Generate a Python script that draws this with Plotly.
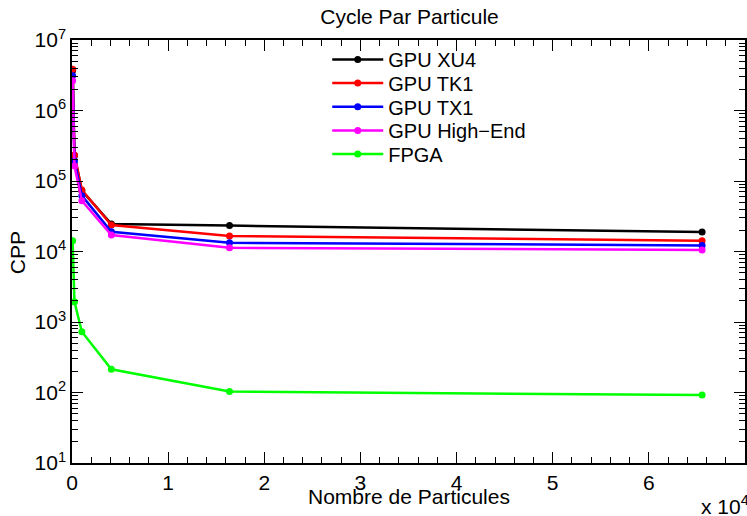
import plotly.graph_objects as go

# Number of particles per run
particles = [64, 256, 1024, 4096, 16384, 65536]

# Cycles per particle for each platform
cpp_xu4 = [3.7e6, 2.3e5, 7.3e4, 2.45e4, 2.33e4, 1.89e4]
cpp_tk1 = [3.84e6, 2.34e5, 7.45e4, 2.38e4, 1.66e4, 1.42e4]
cpp_tx1 = [3.12e6, 1.92e5, 6.2e4, 1.9e4, 1.33e4, 1.22e4]
cpp_high_end = [2.65e6, 1.63e5, 5.25e4, 1.71e4, 1.13e4, 1.05e4]
cpp_fpga = [1.42e4, 1.93e3, 728, 213, 103, 92]

series_names = ["GPU XU4", "GPU TK1", "GPU TX1", "GPU High\u2212End", "FPGA"]
series_values = [cpp_xu4, cpp_tk1, cpp_tx1, cpp_high_end, cpp_fpga]
series_colors = ["#000000", "#ff0000", "#0000ff", "#ff00ff", "#00ff00"]

x_tick_vals = [0, 10000, 20000, 30000, 40000, 50000, 60000, 70000]
x_tick_text = ["0", "1", "2", "3", "4", "5", "6", "7"]
y_exponents = [1, 2, 3, 4, 5, 6, 7]

FONT = "Liberation Sans, Arial, Helvetica, sans-serif"
FS = 21

# plot-area geometry in pixels (for placing legend rows / labels)
L, R, T, B = 72, 747, 40, 463
PW, PH = R - L, B - T

fig = go.Figure()
legend_ids = ["legend", "legend2", "legend3", "legend4", "legend5"]
for name, vals, color, lid in zip(series_names, series_values, series_colors, legend_ids):
    fig.add_trace(go.Scatter(
        x=particles, y=vals, name=name, mode="lines+markers",
        line=dict(color=color, width=2.5),
        marker=dict(color=color, size=7, symbol="circle"),
        legend=lid,
    ))

# one legend box per row so the row spacing is compact
row_centers = [59.5, 83, 106.7, 130.4, 154]
legend_layouts = {}
for lid, yc in zip(legend_ids, row_centers):
    legend_layouts[lid] = dict(
        x=(328 - L) / PW, y=1 - (yc - T) / PH, xanchor="left", yanchor="middle",
        bgcolor="rgba(255,255,255,0)", borderwidth=0,
        font=dict(family=FONT, size=20, color="black"),
        itemwidth=51,
    )

y_minor = [m * 10 ** e for e in range(1, 7) for m in range(2, 10)]

fig.update_layout(
    width=747, height=516,
    margin=dict(l=L, r=747 - R, t=T, b=516 - B),
    paper_bgcolor="white", plot_bgcolor="white",
    font=dict(family=FONT, size=FS, color="black"),
    showlegend=True,
    title=dict(
        text="Cycle Par Particule", x=(L + R) / 2 / 747, xanchor="center",
        y=1 - 17 / 516, yanchor="middle", yref="container",
        font=dict(family=FONT, size=FS, color="black"),
    ),
    xaxis=dict(
        range=[0, 70000], tickmode="array", tickvals=x_tick_vals, ticktext=x_tick_text,
        ticks="inside", ticklen=11, tickwidth=1.3, tickcolor="black",
        showline=True, linecolor="black", linewidth=1.5, mirror="ticks",
        showgrid=False, zeroline=False,
        minor=dict(ticks="inside", ticklen=6, tickwidth=1.1, tickcolor="black", dtick=2000, showgrid=False),
        tickfont=dict(family=FONT, size=FS),
    ),
    yaxis=dict(
        type="log", range=[1, 7], tickmode="array",
        tickvals=[10 ** e for e in y_exponents],
        ticktext=["10<sup>%d</sup>" % e for e in y_exponents],
        ticks="inside", ticklen=11, tickwidth=1.3, tickcolor="black",
        showline=True, linecolor="black", linewidth=1.5, mirror="ticks",
        showgrid=False, zeroline=False,
        minor=dict(ticks="inside", ticklen=6, tickwidth=1.1, tickcolor="black",
                   tickmode="array", tickvals=y_minor, showgrid=False),
        tickfont=dict(family=FONT, size=FS),
    ),
    **legend_layouts,
)

fig.add_annotation(
    text="Nombre de Particules", xref="paper", yref="paper",
    x=(410 - L) / PW, y=-(496 - B) / PH, xanchor="center", yanchor="middle",
    showarrow=False, font=dict(family=FONT, size=FS, color="black"),
)
fig.add_annotation(
    text="CPP", xref="paper", yref="paper", textangle=-90,
    x=-(L - 18) / PW, y=(B - 253) / PH, xanchor="center", yanchor="middle",
    showarrow=False, font=dict(family=FONT, size=FS, color="black"),
)
fig.add_annotation(
    text="x 10<sup>4</sup>", xref="paper", yref="paper",
    x=(701 - L) / PW, y=-(505 - B) / PH, xanchor="left", yanchor="middle",
    showarrow=False, font=dict(family=FONT, size=FS, color="black"),
)

fig.write_html("out.html")
